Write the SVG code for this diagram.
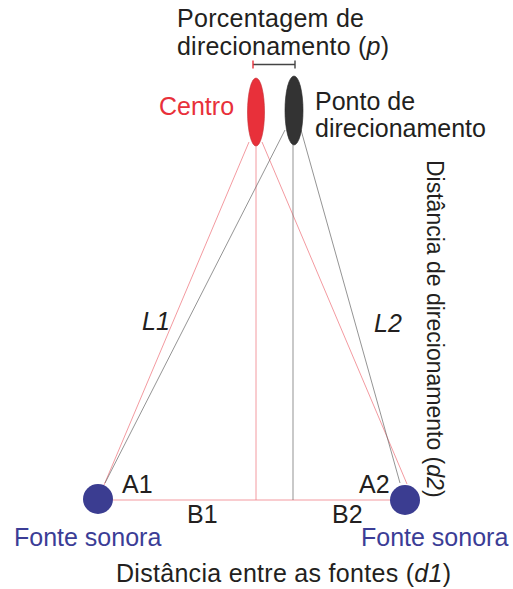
<svg xmlns="http://www.w3.org/2000/svg" width="513" height="589" viewBox="0 0 513 589">
<style>
text{font-family:"Liberation Sans",Arial,sans-serif;font-size:25px;fill:#231f20}
.red{fill:#e8303a}
.blue{fill:#3b3d96}
.it{font-style:italic}
.pk{stroke:#f08088;stroke-width:0.8;fill:none}
.gr{stroke:#666;stroke-width:0.7;fill:none}
.dim{stroke:#444;stroke-width:1.4;fill:none}
</style>
<rect width="513" height="589" fill="#fff"/>
<g id="connectors">
<line class="pk" x1="249" y1="142" x2="104" y2="485"/>
<line class="pk" x1="262" y1="142" x2="407" y2="484"/>
<line class="pk" x1="256" y1="146" x2="256" y2="500"/>
<line class="pk" x1="98" y1="500" x2="405" y2="500"/>
<line class="gr" x1="285" y1="130" x2="105" y2="483"/>
<line class="gr" x1="301" y1="130" x2="400" y2="483"/>
<line class="gr" x1="293" y1="145" x2="293" y2="500"/>
</g>
<g id="percentagem">
<line class="dim" x1="253" y1="64.5" x2="295" y2="64.5"/>
<line x1="253" y1="60.5" x2="253" y2="68.5" stroke="#e8303a" stroke-width="1.4"/>
<line class="dim" x1="295" y1="60.5" x2="295" y2="68.5"/>
<text x="177" y="27" textLength="187">Porcentagem de</text>
<text x="177" y="55" textLength="212">direcionamento (<tspan class="it">p</tspan>)</text>
</g>
<g id="centro">
<ellipse cx="256" cy="112" rx="8.5" ry="34" fill="#e8303a" stroke="#c42a30" stroke-width="0.6"/>
<text class="red" x="159" y="115">Centro</text>
</g>
<g id="ponto">
<ellipse cx="294" cy="110.5" rx="9" ry="34.5" fill="#333" stroke="#222" stroke-width="0.6"/>
<text x="315" y="110">Ponto de</text>
<text x="315" y="137">direcionamento</text>
</g>
<g id="fonte1">
<circle cx="98" cy="499" r="15" fill="#3b3d91"/>
<text class="blue" x="14" y="546">Fonte sonora</text>
</g>
<g id="fonte2">
<circle cx="405" cy="500" r="15" fill="#3b3d91"/>
<text class="blue" x="361" y="546">Fonte sonora</text>
</g>
<g id="labels">
<text class="it" x="142" y="330">L1</text>
<text class="it" x="374" y="332">L2</text>
<text x="122" y="493">A1</text>
<text x="359" y="493">A2</text>
<text x="187" y="523">B1</text>
<text x="332" y="523">B2</text>
<text transform="translate(427,160) rotate(90)" style="font-size:23px">Distância de direcionamento (<tspan class="it">d2</tspan>)</text>
<text x="116" y="582" textLength="335">Distância entre as fontes (<tspan class="it">d1</tspan>)</text>
</g>
</svg>
